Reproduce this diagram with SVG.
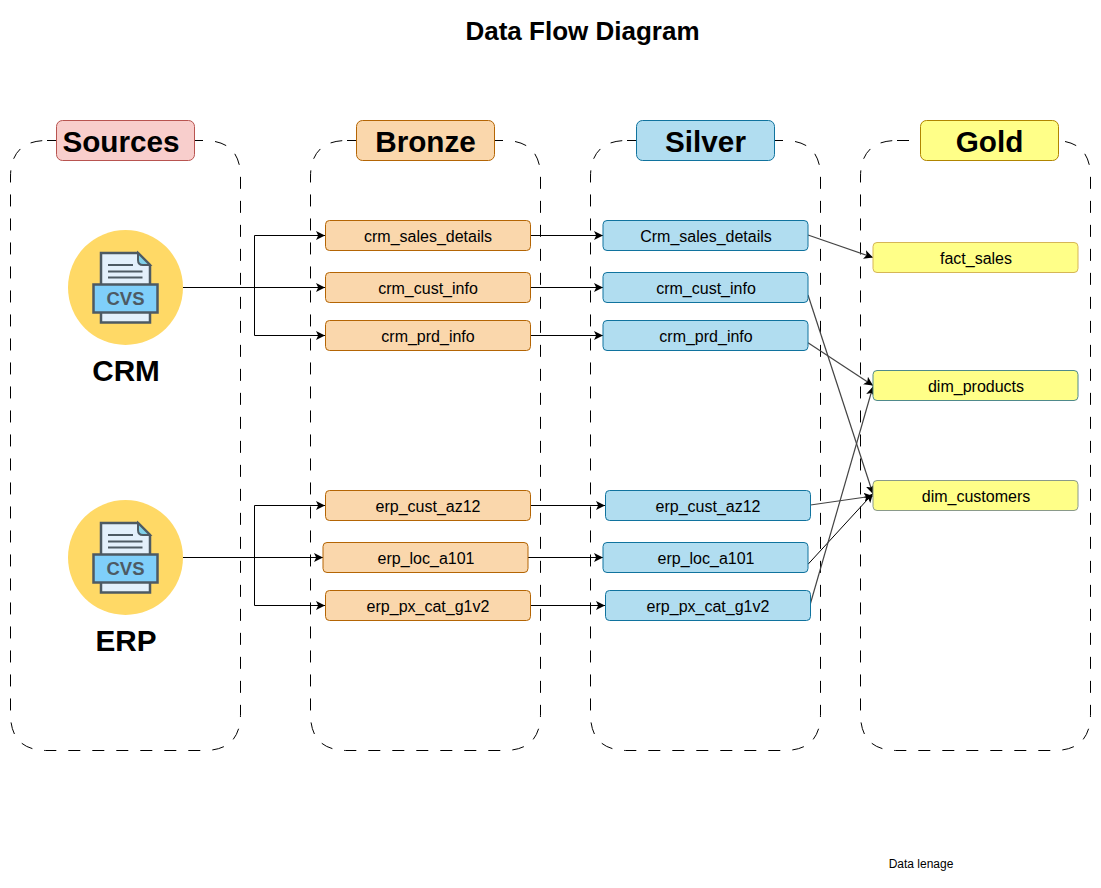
<svg xmlns="http://www.w3.org/2000/svg" xmlns:xlink="http://www.w3.org/1999/xlink" width="1101" height="888" viewBox="0 0 1101 888">
<style>
text{font-family:"Liberation Sans",Arial,sans-serif;text-anchor:middle;fill:#000}
.lane{fill:none;stroke:#000;stroke-width:1;stroke-dasharray:12 12}
.hd{stroke-width:1}
.hdt{font-size:29.700px;font-weight:700}
.n{font-size:16px}
.b{fill:#fad7ac;stroke:#b46504}
.s{fill:#b1ddf0;stroke:#10739e}
.g{fill:#ffff88;stroke:#d6b656}
.c{fill:none;stroke:#000;stroke-width:1;marker-end:url(#a)}
.d{fill:none;stroke:#444;stroke-width:1.200;marker-end:url(#a)}
.src{font-size:29.700px;font-weight:700}
</style>
<defs>
<marker id="a" markerUnits="userSpaceOnUse" markerWidth="12" markerHeight="10" refX="9" refY="4.500" orient="auto"><path d="M0 0L9 4.500L0 9L2.200 4.500Z" fill="#000"/></marker>
<path id="lane" class="lane" d="M47 140.500H204Q240.500 140.500 240.500 177V714Q240.500 750.500 204 750.500H47Q10.500 750.500 10.500 714V177Q10.500 140.500 47 140.500Z"/>
<g id="icon">
<circle cx="125.500" cy="287.500" r="57.500" fill="#ffd966"/>
<path d="M101 253H138L150 265V322.500H101Z" fill="#e3f0fb" stroke="#4d5a63" stroke-width="2.500"/>
<path d="M138 253V260Q138 265 143 265H150Z" fill="#7fd0e8" stroke="#4d5a63" stroke-width="2"/>
<path d="M108 265H133M108 271.500H142.500M108 277.500H142.500" fill="none" stroke="#4d5a63" stroke-width="2"/>
<rect x="93.500" y="284.500" width="64" height="28" fill="#7fcffa" stroke="#4d5a63" stroke-width="2.500"/>
<text x="125.500" y="305" font-size="18.500" font-weight="700" style="fill:#4d5a63">CVS</text>
</g>
</defs>
<rect width="1101" height="888" fill="#fff"/>
<text x="582.500" y="40" font-size="26" font-weight="700">Data Flow Diagram</text>

<g id="lanes">
<use href="#lane" xlink:href="#lane"/>
<use href="#lane" xlink:href="#lane" x="300"/>
<use href="#lane" xlink:href="#lane" x="580"/>
<use href="#lane" xlink:href="#lane" x="850"/>
</g>

<g id="connectors">
<path class="c" d="M183 287.500H254.500V235.500H325"/>
<path class="c" d="M183 287.500H325"/>
<path class="c" d="M183 287.500H254.500V335.500H325"/>
<path class="c" d="M183 557.500H254.500V505.500H325"/>
<path class="c" d="M183 557.500H323"/>
<path class="c" d="M183 557.500H254.500V605.500H325"/>
<path class="c" d="M530.500 235.500H603"/>
<path class="c" d="M530.500 287.500H603"/>
<path class="c" d="M530.500 335.500H603"/>
<path class="c" d="M530.500 505.500H605"/>
<path class="c" d="M528 557.500H603"/>
<path class="c" d="M530.500 605.500H605"/>
<path class="d" d="M808 235L873 257.500"/>
<path class="d" d="M808 295L873 494"/>
<path class="d" d="M808 342.700L873 385.500"/>
<path class="d" d="M810.500 505L873 496"/>
<path class="c" d="M808 564.300L873 493.500"/>
<path class="d" d="M810 605L873 386.500"/>
</g>

<g id="source-header"><rect class="hd" x="56.500" y="120.500" width="138" height="40" rx="6" fill="#f8cecc" stroke="#b85450"/><text class="hdt" x="121" y="151.500">Sources</text></g>
<g id="bronze-header"><rect class="hd" x="356.500" y="120.500" width="138" height="40" rx="6" fill="#fad7ac" stroke="#b46504"/><text class="hdt" x="425.500" y="152">Bronze</text></g>
<g id="silver-header"><rect class="hd" x="636.500" y="120.500" width="138" height="40" rx="6" fill="#b1ddf0" stroke="#10739e"/><text class="hdt" x="705.500" y="152">Silver</text></g>
<g id="gold-header"><rect class="hd" x="920.500" y="120.500" width="138" height="40" rx="6" fill="#ffff88" stroke="#b08500"/><text class="hdt" x="989.500" y="152">Gold</text></g>

<g id="crm"><use href="#icon" xlink:href="#icon"/><text class="src" x="126" y="381">CRM</text></g>
<g id="erp"><use href="#icon" xlink:href="#icon" y="270"/><text class="src" x="126" y="651">ERP</text></g>

<g id="b1"><rect class="b" x="325.500" y="220.500" width="205" height="30" rx="4"/><text class="n" x="428" y="242">crm_sales_details</text></g>
<g id="b2"><rect class="b" x="325.500" y="272.500" width="205" height="30" rx="4"/><text class="n" x="428" y="294">crm_cust_info</text></g>
<g id="b3"><rect class="b" x="325.500" y="320.500" width="205" height="30" rx="4"/><text class="n" x="428" y="342">crm_prd_info</text></g>
<g id="b4"><rect class="b" x="325.500" y="490.500" width="205" height="30" rx="4"/><text class="n" x="428" y="512">erp_cust_az12</text></g>
<g id="b5"><rect class="b" x="323" y="542.500" width="205" height="30" rx="4"/><text class="n" x="426" y="564">erp_loc_a101</text></g>
<g id="b6"><rect class="b" x="325.500" y="590.500" width="205" height="30" rx="4"/><text class="n" x="428" y="612">erp_px_cat_g1v2</text></g>

<g id="s1"><rect class="s" x="603" y="220.500" width="205" height="30" rx="4"/><text class="n" x="706" y="242">Crm_sales_details</text></g>
<g id="s2"><rect class="s" x="603" y="272.500" width="205" height="30" rx="4"/><text class="n" x="706" y="294">crm_cust_info</text></g>
<g id="s3"><rect class="s" x="603" y="320.500" width="205" height="30" rx="4"/><text class="n" x="706" y="342">crm_prd_info</text></g>
<g id="s4"><rect class="s" x="605.500" y="490.500" width="205" height="30" rx="4"/><text class="n" x="708" y="512">erp_cust_az12</text></g>
<g id="s5"><rect class="s" x="603" y="542.500" width="205" height="30" rx="4"/><text class="n" x="706" y="564">erp_loc_a101</text></g>
<g id="s6"><rect class="s" x="605.500" y="590.500" width="205" height="30" rx="4"/><text class="n" x="708" y="612">erp_px_cat_g1v2</text></g>

<g id="g1"><rect class="g" x="873" y="242.500" width="205" height="30" rx="4"/><text class="n" x="976" y="264">fact_sales</text></g>
<g id="g2"><rect x="873" y="370.500" width="205" height="30" rx="4" fill="#ffff88" stroke="#4f8a8b"/><text class="n" x="976" y="392">dim_products</text></g>
<g id="g3"><rect x="873" y="480.500" width="205" height="30" rx="4" fill="#ffff88" stroke="#8a9a8a"/><text class="n" x="976" y="502">dim_customers</text></g>

<text x="921" y="868" font-size="12">Data lenage</text>
</svg>
